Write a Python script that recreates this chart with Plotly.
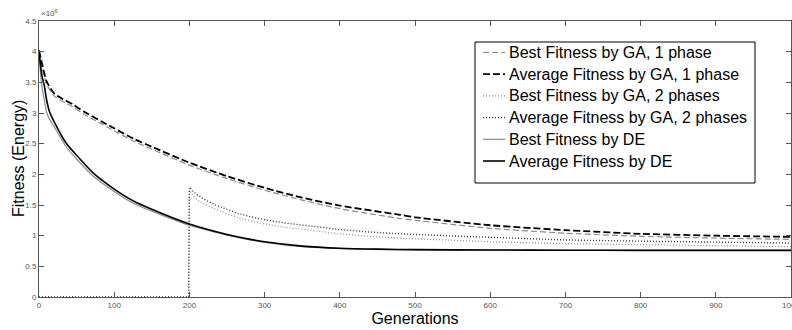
import plotly.graph_objects as go

# Fitness (energy, x10^6) per generation for each optimiser run
ga1_gen = [0, 5, 10, 20, 30, 45, 60, 85, 100, 126, 150, 200, 250, 300, 350, 400,
           480, 500, 600, 700, 800, 900, 1000]
ga1_avg = [4.02, 3.75, 3.52, 3.32, 3.24, 3.14, 3.02, 2.85, 2.75, 2.58, 2.45, 2.19,
           1.97, 1.78, 1.62, 1.49, 1.34, 1.30, 1.17, 1.09, 1.03, 1.00, 0.98]
ga1_best = [4.00, 3.70, 3.47, 3.28, 3.20, 3.10, 2.98, 2.81, 2.71, 2.54, 2.41, 2.15,
            1.93, 1.74, 1.58, 1.44, 1.28, 1.25, 1.12, 1.04, 0.99, 0.96, 0.94]

ga2_gen = [0, 100, 199, 200, 205, 210, 220, 235, 250, 265, 281, 300, 325, 350, 375,
           400, 440, 480, 540, 600, 700, 800, 900, 1000]
ga2_avg = [0, 0, 0, 1.79, 1.72, 1.67, 1.59, 1.50, 1.43, 1.36, 1.31, 1.26, 1.21,
           1.17, 1.13, 1.10, 1.06, 1.03, 1.00, 0.97, 0.93, 0.91, 0.89, 0.88]
ga2_best = [0, 0, 0, 1.74, 1.65, 1.59, 1.51, 1.43, 1.36, 1.29, 1.24, 1.19, 1.14,
            1.10, 1.06, 1.03, 0.99, 0.96, 0.93, 0.90, 0.87, 0.85, 0.83, 0.82]

de_gen = [0, 2, 4, 7, 10, 14, 20, 36, 50, 73, 100, 125, 150, 200, 250, 281, 300,
          350, 400, 450, 500, 600, 700, 800, 900, 1000]
de_avg = [4.02, 3.78, 3.60, 3.45, 3.22, 3.02, 2.86, 2.51, 2.31, 2.01, 1.76, 1.57,
          1.43, 1.19, 1.02, 0.94, 0.90, 0.83, 0.795, 0.78, 0.772, 0.766, 0.763,
          0.761, 0.760, 0.760]
de_best = [3.98, 3.65, 3.42, 3.22, 3.02, 2.90, 2.78, 2.45, 2.25, 1.96, 1.72, 1.53,
           1.40, 1.17, 1.01, 0.93, 0.89, 0.82, 0.79, 0.775, 0.768, 0.764, 0.762,
           0.760, 0.759, 0.759]

x_ticks = list(range(0, 1001, 100))
y_ticks = [0, 0.5, 1, 1.5, 2, 2.5, 3, 3.5, 4, 4.5]

FONT = "Liberation Sans, Arial, sans-serif"
GRAY = "#8c8c8c"
series = [
    ("Best Fitness by GA, 1 phase", ga1_gen, ga1_best, GRAY, "6px,3px", 1.2, "spline"),
    ("Average Fitness by GA, 1 phase", ga1_gen, ga1_avg, "black", "7px,3px", 1.8, "spline"),
    ("Best Fitness by GA, 2 phases", ga2_gen, ga2_best, GRAY, "1px,2px", 1.2, "linear"),
    ("Average Fitness by GA, 2 phases", ga2_gen, ga2_avg, "#333333", "1px,2px", 1.4, "linear"),
    ("Best Fitness by DE", de_gen, de_best, GRAY, "solid", 1.2, "spline"),
    ("Average Fitness by DE", de_gen, de_avg, "black", "solid", 1.6, "spline"),
]

# Plot-area geometry in pixels (used to place the hand-built legend)
W, H = 792, 330
ML, MR, MT, MB = 39, 1, 21, 33
PW, PH = W - ML - MR, H - MT - MB


def px(x):
    return (x - ML) / PW


def py(y):
    return (H - MB - y) / PH


fig = go.Figure()
for name, xs, ys, color, dash, width, shape in series:
    line = dict(color=color, dash=dash, width=width, shape=shape)
    if shape == "spline":
        line["smoothing"] = 0.6
    fig.add_trace(go.Scatter(x=xs, y=ys, name=name, mode="lines", line=line,
                             showlegend=False))

axis_common = dict(
    showline=True, linecolor="#555555", linewidth=1, mirror="ticks",
    ticks="inside", ticklen=5, tickcolor="#555555",
    showgrid=False, zeroline=False, automargin=False,
    tickfont=dict(family=FONT, size=8, color="#555555"),
)

fig.update_xaxes(
    range=[0, 1000], tickvals=x_ticks, ticktext=[str(v) for v in x_ticks],
    ticklabeloverflow="allow",
    title=dict(text="Generations", standoff=2,
               font=dict(family=FONT, size=16, color="black")),
    **axis_common,
)
fig.update_yaxes(
    range=[0, 4.5], tickvals=y_ticks, ticktext=[f"{v:g}" for v in y_ticks],
    **axis_common,
)

fig.add_annotation(
    x=0, y=0.5, xref="paper", yref="paper", xanchor="center", yanchor="middle",
    text="Fitness (Energy)", textangle=-90, showarrow=False, xshift=-21,
    font=dict(family=FONT, size=16, color="black"),
)
fig.add_annotation(
    x=0, y=1, xref="paper", yref="paper", xanchor="left", yanchor="bottom",
    text="×10<sup>6</sup>", showarrow=False, yshift=1,
    font=dict(family=FONT, size=8, color="#555555"),
)

# Legend box with line samples and labels
box_l, box_r, box_t, box_b = 475, 755, 42, 183
fig.add_shape(type="rect", xref="paper", yref="paper",
              x0=px(box_l), x1=px(box_r), y0=py(box_b), y1=py(box_t),
              line=dict(color="black", width=1), fillcolor="white", layer="above")
row0, row_step = 52.5, 21.7
for i, (name, _, _, color, dash, width, _) in enumerate(series):
    yc = row0 + i * row_step
    fig.add_shape(type="line", xref="paper", yref="paper",
                  x0=px(483), x1=px(505), y0=py(yc), y1=py(yc),
                  line=dict(color=color, dash=dash, width=width), layer="above")
    fig.add_annotation(x=px(507), y=py(yc), xref="paper", yref="paper",
                       xanchor="left", yanchor="middle", text=name, showarrow=False,
                       font=dict(family=FONT, size=16, color="black"))

fig.update_layout(
    width=W, height=H,
    margin=dict(l=ML, r=MR, t=MT, b=MB),
    paper_bgcolor="white", plot_bgcolor="white",
    showlegend=False,
)

fig.write_html("out.html")
